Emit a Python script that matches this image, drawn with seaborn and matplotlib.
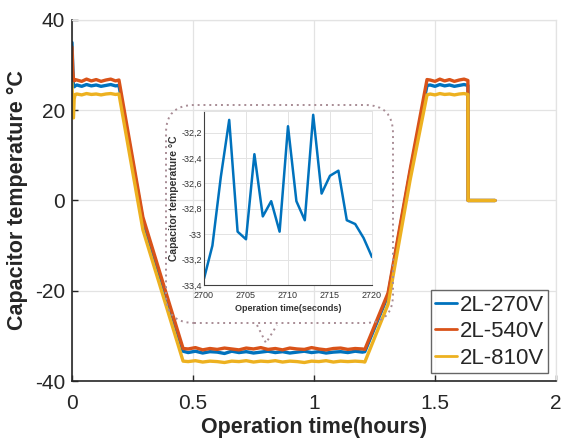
import numpy as np
import pandas as pd
import matplotlib
matplotlib.use("Agg")
import matplotlib.pyplot as plt
import seaborn as sns
from matplotlib.patches import FancyBboxPatch
from matplotlib.lines import Line2D

# ---------------- data ----------------
time_hours = [0.0, 0.003, 0.006, 0.009, 0.013,
              0.02, 0.04, 0.06, 0.08, 0.10, 0.12, 0.14, 0.16, 0.18, 0.194,
              0.293, 0.459,
              0.48, 0.51, 0.54, 0.57, 0.60, 0.63, 0.66, 0.69, 0.72, 0.75, 0.78, 0.81, 0.84,
              0.87, 0.90, 0.93, 0.96, 0.99, 1.02, 1.05, 1.08, 1.11, 1.14, 1.17, 1.20, 1.21,
              1.306, 1.397, 1.467,
              1.48, 1.50, 1.52, 1.54, 1.56, 1.58, 1.60, 1.62, 1.636,
              1.637, 1.748]

temp_270 = [35.0, 30.0, 25.5, 25.2, 25.4,
            25.6, 25.3, 25.7, 25.4, 25.6, 25.3, 25.5, 25.7, 25.4, 25.5,
            -4.4, -33.4,
            -33.7, -33.4, -33.8, -33.5, -33.6, -33.9, -33.4, -33.7, -33.5, -33.8, -33.6, -33.4, -33.7,
            -33.5, -33.8, -33.6, -33.4, -33.7, -33.5, -33.8, -33.6, -33.5, -33.7, -33.4, -33.6, -33.5,
            -21.0, 6.2, 25.5,
            25.6, 25.3, 25.7, 25.4, 25.6, 25.3, 25.5, 25.7, 25.5,
            0.0, 0.0]

temp_540 = [34.0, 29.0, 27.0, 26.5, 26.8,
            26.7, 26.4, 26.9, 26.5, 26.8, 26.4, 26.7, 26.9, 26.5, 26.7,
            -3.7, -32.8,
            -32.9, -32.6, -33.1, -32.8, -33.0, -32.7, -32.9, -33.1, -32.7, -32.9, -32.6, -33.0, -32.8,
            -33.1, -32.7, -32.9, -33.0, -32.6, -32.9, -33.1, -32.8, -32.7, -33.0, -32.8, -32.9, -33.0,
            -20.5, 6.8, 26.8,
            26.7, 26.4, 26.9, 26.5, 26.8, 26.4, 26.7, 26.9, 26.6,
            0.0, 0.0]

temp_810 = [26.0, 18.5, 18.3, 22.5, 23.5,
            23.6, 23.4, 23.7, 23.5, 23.6, 23.4, 23.6, 23.7, 23.5, 23.6,
            -6.5, -35.6,
            -35.7, -35.5, -35.8, -35.6, -35.7, -35.9, -35.6, -35.7, -35.5, -35.8, -35.6, -35.7, -35.5,
            -35.8, -35.6, -35.7, -35.9, -35.6, -35.7, -35.5, -35.8, -35.6, -35.7, -35.6, -35.7, -35.8,
            -23.0, 4.5, 23.4,
            23.6, 23.4, 23.7, 23.5, 23.6, 23.4, 23.6, 23.7, 23.5,
            0.0, 0.0]

series_labels = ["2L-270V", "2L-540V", "2L-810V"]
series_colors = ["#0072BD", "#D95319", "#EDB120"]

x_ticks = [0, 0.5, 1, 1.5, 2]
x_tick_labels = ["0", "0.5", "1", "1.5", "2"]
y_ticks = [-40, -20, 0, 20, 40]

inset_seconds = list(range(2700, 2721))
inset_temp = [-33.35, -33.09, -32.55, -32.10, -32.98, -33.04, -32.37, -32.86, -32.74,
              -32.98, -32.15, -32.74, -32.89, -32.06, -32.68, -32.54, -32.50, -32.89,
              -32.92, -33.03, -33.18]
inset_x_ticks = [2700, 2705, 2710, 2715, 2720]
inset_y_ticks = [-33.4, -33.2, -33.0, -32.8, -32.6, -32.4, -32.2]
inset_y_tick_labels = ["-33,4", "-33,2", "-33", "-32,8", "-32,6", "-32,4", "-32,2"]

# ---------------- style ----------------
sns.set_style("white")
plt.rcParams['font.family'] = ['Liberation Sans', 'DejaVu Sans']
plt.rcParams['axes.unicode_minus'] = False

W, H = 561, 444
fig = plt.figure(figsize=(W / 100, H / 100), dpi=100)

grid_c = "#e3e3e3"
axis_c = "#262626"

ax = fig.add_axes([72 / W, 1 - 381 / H, 484 / W, 361 / H])
for lab, col, vals in zip(series_labels, series_colors, [temp_270, temp_540, temp_810]):
    df = pd.DataFrame({"t": time_hours, "T": vals})
    sns.lineplot(data=df, x="t", y="T", ax=ax, color=col, lw=2.4, label=lab,
                 estimator=None, sort=False)

ax.set_xlim(0, 2)
ax.set_ylim(-40, 40)
ax.set_xticks(x_ticks)
ax.set_xticklabels(x_tick_labels)
ax.set_yticks(y_ticks)
ax.grid(True, color=grid_c, lw=0.9)
ax.set_axisbelow(True)
for s in ["top", "right"]:
    ax.spines[s].set_color(grid_c)
    ax.spines[s].set_linewidth(0.9)
for s in ["left", "bottom"]:
    ax.spines[s].set_color(axis_c)
    ax.spines[s].set_linewidth(1.2)
ax.tick_params(direction="in", length=4, width=1, colors=axis_c, labelsize=15,
               labelcolor="#262626", top=False, right=False, bottom=True, left=True)
ax.tick_params(axis="x", pad=9)
ax.tick_params(axis="y", pad=5)
ax.set_xlabel("Operation time(hours)", fontsize=15.5, fontweight="bold", labelpad=3, color="#262626")
ax.set_ylabel("Capacitor temperature °C", fontsize=15.5, fontweight="bold", labelpad=5, color="#262626")

leg = ax.legend(loc="lower right", fontsize=16, handlelength=1.0, handletextpad=0.1,
                borderpad=0.2, labelspacing=0.25, borderaxespad=0.35, frameon=True,
                fancybox=False, edgecolor="#404040")
leg.get_frame().set_linewidth(1.0)
for h in leg.get_lines():
    h.set_linewidth(2.0)

# ---------------- callout box ----------------
box = FancyBboxPatch((1.66, 1.21), 2.27, 2.18,
                     boxstyle="round,pad=0.0,rounding_size=0.28",
                     transform=fig.dpi_scale_trans, fill=False,
                     edgecolor="#a88c95", linestyle=(0, (1, 2)), lw=1.4, zorder=5)
fig.patches.append(box)
fig.lines.append(Line2D([2.57, 2.66, 2.77], [1.19, 1.01, 1.19], transform=fig.dpi_scale_trans,
                        color="#a88c95", linestyle=(0, (1, 2)), lw=1.4))

# ---------------- inset ----------------
iax = fig.add_axes([204 / W, 1 - 285 / H, 168 / W, 174 / H], zorder=6)
sns.lineplot(x=inset_seconds, y=inset_temp, ax=iax, color="#0072BD", lw=1.8,
             estimator=None, sort=False)
iax.set_xlim(2700, 2720)
iax.set_ylim(-33.4, -32.03)
iax.set_xticks(inset_x_ticks)
iax.set_yticks(inset_y_ticks)
iax.set_yticklabels(inset_y_tick_labels)
iax.grid(True, color=grid_c, lw=0.7)
iax.set_axisbelow(True)
for s in ["top", "right"]:
    iax.spines[s].set_color(grid_c)
    iax.spines[s].set_linewidth(0.7)
for s in ["left", "bottom"]:
    iax.spines[s].set_color("#404040")
    iax.spines[s].set_linewidth(0.8)
iax.tick_params(direction="in", length=2, width=0.7, colors="#404040", labelsize=6.5,
                labelcolor="#333333")
iax.tick_params(axis="x", pad=4)
iax.tick_params(axis="y", pad=1.5)
iax.set_xlabel("Operation time(seconds)", fontsize=6.5, fontweight="bold", labelpad=3,
               color="#333333")
iax.set_ylabel("Capacitor temperature °C", fontsize=7.5, fontweight="bold", labelpad=2,
               color="#333333")

fig.savefig("out.png", dpi=100)
